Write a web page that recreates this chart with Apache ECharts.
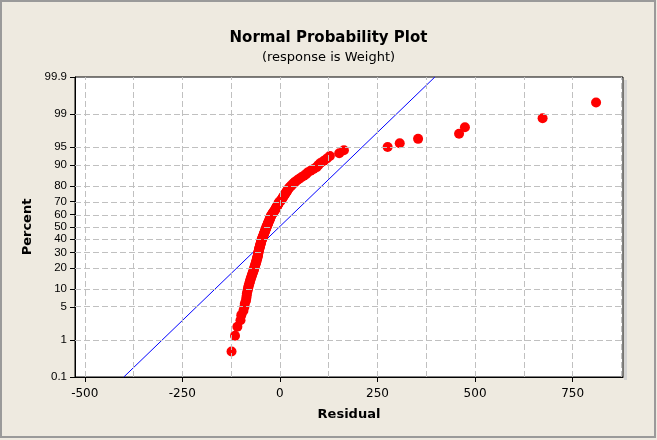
<!DOCTYPE html>
<html><head><meta charset="utf-8">
<script src="https://cdn.jsdelivr.net/npm/echarts@6/dist/echarts.min.js"></script>
<style>html,body{margin:0;padding:0;background:#EEEAE0;} #c{width:657px;height:440px;}</style>
</head><body><div id="c"></div>
<script>
// Sorted residuals (rank 1..n)
const residuals = [
  -124, -115, -109, -101, -99, -93.5, -91, -90, -87, -86,
  -85, -84.5, -83, -82, -80.7, -79.4, -78, -77, -75.6, -74.3,
  -73, -71.7, -70.5, -69, -68, -66.6, -66, -65, -64, -62.8,
  -62, -61, -60.2, -59.5, -58.9, -57.6, -57.1, -56.6, -56.1, -55.6,
  -55, -54.5, -54, -53.3, -52.6, -52, -51.2, -50.7, -50, -49.2,
  -48.7, -48, -47.4, -46.6, -45.6, -44.6, -43.8, -42.8, -42, -41.2,
  -40.2, -39.5, -38.6, -37.7, -36.9, -35.9, -35.1, -34.1, -33.3, -32.3,
  -31.5, -30.5, -29.7, -28.7, -27.7, -26.6, -25.4, -24.9, -23.8, -23.1,
  -21.8, -20.2, -18.7, -17, -15.4, -13.6, -12, -10.8, -9.5, -7.9,
  -6.7, -5.1, -3.8, -2.6, -1, 2.3, 4.1, 5.9, 7.7, 9.2,
  11.3, 13.1, 14.9, 16.9, 19, 20.5, 22.5, 25.6, 28.9, 32.3,
  35.6, 39.2, 44.3, 49.4, 55.1, 61.5, 67, 71, 78.6, 86.3,
  94, 98.6, 103.8, 112.7, 120.4, 128, 152, 164,
  276, 307, 354, 459, 474, 673, 810
];
const percentTicks = [0.1, 1, 5, 10, 20, 30, 40, 50, 60, 70, 80, 90, 95, 99, 99.9];
const residualTicks = [-500, -250, 0, 250, 500, 750];
const residualGrid = [-500, -375, -250, -125, 0, 125, 250, 375, 500, 625, 750, 875];
// fitted line end points: [residual, percent]
const fitLine = [[-400, 0.1], [397, 99.9]];

// inverse standard normal CDF (probability-scale axis transform)
function probit(p) {
  const a = [-3.969683028665376e+01, 2.209460984245205e+02, -2.759285104469687e+02, 1.383577518672690e+02, -3.066479806614716e+01, 2.506628277459239e+00];
  const b = [-5.447609879822406e+01, 1.615858368580409e+02, -1.556989798598866e+02, 6.680131188771972e+01, -1.328068155288572e+01];
  const c = [-7.784894002430293e-03, -3.223964580411365e-01, -2.400758277161838e+00, -2.549732539343734e+00, 4.374664141464968e+00, 2.938163982698783e+00];
  const d = [7.784695709041462e-03, 3.224671290700398e-01, 2.445134137142996e+00, 3.754408661907416e+00];
  const plow = 0.02425, phigh = 1 - plow;
  let q, r;
  if (p < plow) {
    q = Math.sqrt(-2 * Math.log(p));
    return (((((c[0]*q+c[1])*q+c[2])*q+c[3])*q+c[4])*q+c[5]) / ((((d[0]*q+d[1])*q+d[2])*q+d[3])*q+1);
  } else if (p <= phigh) {
    q = p - 0.5; r = q*q;
    return (((((a[0]*r+a[1])*r+a[2])*r+a[3])*r+a[4])*r+a[5])*q / (((((b[0]*r+b[1])*r+b[2])*r+b[3])*r+b[4])*r+1);
  } else {
    q = Math.sqrt(-2 * Math.log(1 - p));
    return -(((((c[0]*q+c[1])*q+c[2])*q+c[3])*q+c[4])*q+c[5]) / ((((d[0]*q+d[1])*q+d[2])*q+d[3])*q+1);
  }
}

const n = residuals.length;
const tickZ = percentTicks.map(p => probit(p / 100));
const yMin = tickZ[0], yMax = tickZ[tickZ.length - 1];
// median-rank plotting positions
const points = residuals.map((r, i) => [r, probit((i + 1 - 0.3) / (n + 0.4))]);
const fitData = fitLine.map(([r, p]) => [r, probit(p / 100)]);

function zLabel(v) {
  let best = 0;
  for (let i = 1; i < tickZ.length; i++) if (Math.abs(tickZ[i] - v) < Math.abs(tickZ[best] - v)) best = i;
  return String(percentTicks[best]);
}

const chart = echarts.init(document.getElementById('c'), null, {renderer: 'canvas'});
chart.setOption({
  animation: false,
  backgroundColor: '#EEEAE0',
  title: {
    text: 'Normal Probability Plot',
    subtext: '(response is Weight)',
    left: 'center', top: 25, itemGap: 3,
    textStyle: {fontFamily: 'DejaVu Sans', fontWeight: 'bold', fontSize: 15, color: '#000', lineHeight: 17},
    subtextStyle: {fontFamily: 'DejaVu Sans', fontSize: 13, color: '#000', lineHeight: 15}
  },
  graphic: [
    {type: 'rect', shape: {x: 1, y: 1, width: 654, height: 436}, style: {fill: 'none', stroke: '#9a9a9a', lineWidth: 2}, silent: true},
    {type: 'rect', shape: {x: 624, y: 80, width: 3, height: 300}, style: {fill: '#d4d4d4'}, silent: true}
  ],
  grid: {left: 75, right: 34, top: 77, bottom: 63, show: true, backgroundColor: '#fff', borderColor: '#000', borderWidth: 1},
  xAxis: {
    type: 'value', min: -525, max: 879,
    name: 'Residual', nameLocation: 'middle', nameGap: 31,
    nameTextStyle: {fontFamily: 'DejaVu Sans', fontWeight: 'bold', fontSize: 13, color: '#000'},
    axisLine: {show: true, onZero: false, lineStyle: {color: '#000', width: 1}},
    axisTick: {show: true, length: 5, customValues: residualTicks, lineStyle: {color: '#000'}},
    axisLabel: {customValues: residualTicks, margin: 11, fontFamily: 'DejaVu Sans', fontSize: 12, color: '#000'},
    splitLine: {show: false}
  },
  yAxis: {
    type: 'value', min: yMin, max: yMax,
    name: 'Percent', nameLocation: 'middle', nameGap: 37,
    nameTextStyle: {fontFamily: 'DejaVu Sans', fontWeight: 'bold', fontSize: 13, color: '#000'},
    axisLine: {show: true, onZero: false, lineStyle: {color: '#000', width: 1}},
    axisTick: {show: true, length: 5, customValues: tickZ, lineStyle: {color: '#000'}},
    axisLabel: {customValues: tickZ, formatter: zLabel, margin: 8, fontFamily: 'Liberation Sans', fontSize: 11.5, color: '#000'},
    splitLine: {show: false}
  },
  series: [
    {
      type: 'line', data: [], z: 1, silent: true,
      markLine: {
        silent: true, symbol: 'none', animation: false,
        label: {show: false},
        lineStyle: {type: [6, 3], color: '#c0c0c0', width: 1},
        data: residualGrid.map(v => ({xAxis: v})).concat(tickZ.slice(1, -1).map(z => ({yAxis: z})))
      }
    },
    {
      type: 'line', data: fitData, symbol: 'none', z: 2, silent: true,
      lineStyle: {color: '#0000ff', width: 1}
    },
    {
      type: 'scatter', data: points, symbol: 'circle', symbolSize: 10, z: 3,
      itemStyle: {color: '#ff0000', opacity: 1}
    }
  ]
});
</script></body></html>
